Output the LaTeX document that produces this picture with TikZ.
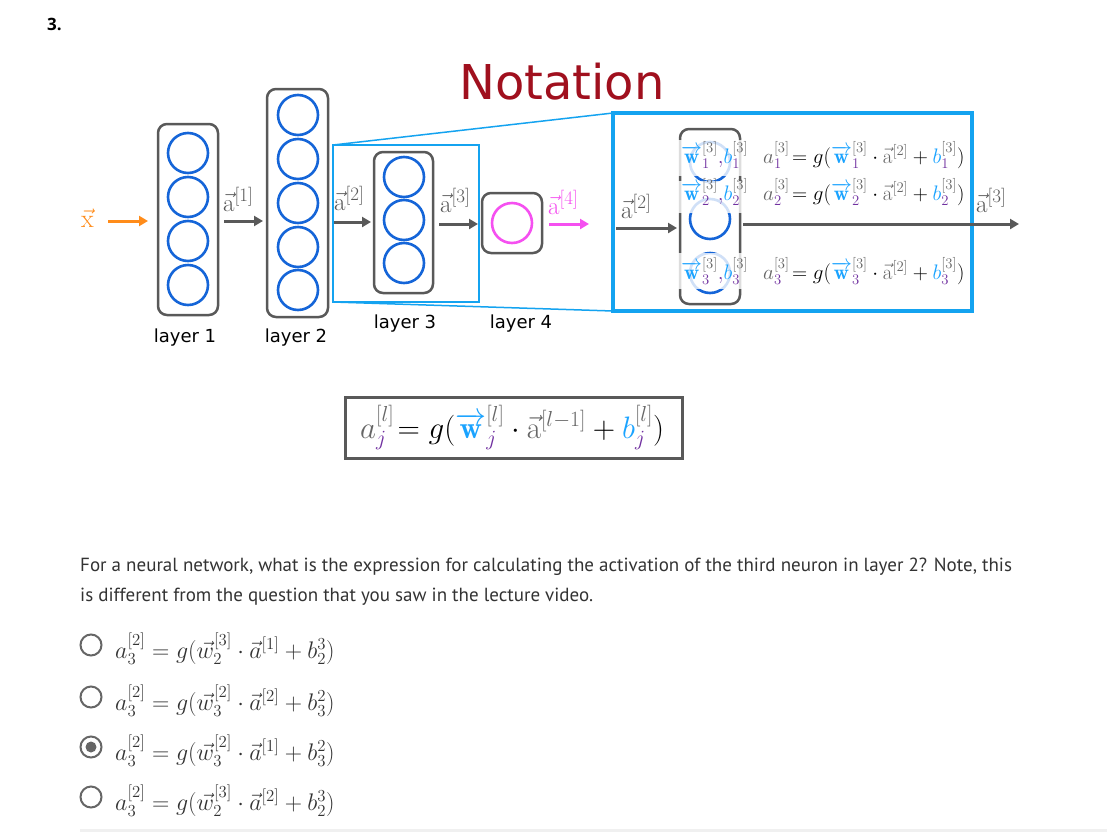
\RequirePackage{fix-cm}
\documentclass[tikz,border=0pt]{standalone}
\usepackage{amsmath}
\usepackage{fontspec}
\usetikzlibrary{arrows.meta}
\newfontfamily\dejavu{DejaVu Sans}
\newfontfamily\ptsans{PT Sans}
\newfontfamily\opensans{Open Sans}
\definecolor{nodeblue}{HTML}{1565D8}
\definecolor{boxgray}{HTML}{595959}
\definecolor{skyblue}{HTML}{14A3F0}
\definecolor{wblue}{HTML}{1AA3FF}
\definecolor{purp}{HTML}{7030A0}
\definecolor{notred}{HTML}{A0101E}
\definecolor{eqgray}{HTML}{666666}
\definecolor{xorange}{HTML}{FF8C1A}
\definecolor{apink}{HTML}{F550F0}
\definecolor{txtgray}{HTML}{333333}
\definecolor{radiogray}{HTML}{666666}
\newcommand{\myA}[2]{\textcolor{eqgray}{a}^{\textcolor{eqgray}{[#1]}}_{\textcolor{purp}{#2}}}
\newcommand{\myW}[2]{\textcolor{wblue}{\overrightarrow{\mathbf{w}}}^{\textcolor{eqgray}{[#1]}}_{\textcolor{purp}{#2}}}
\newcommand{\myB}[2]{\textcolor{wblue}{b}^{\textcolor{eqgray}{[#1]}}_{\textcolor{purp}{#2}}}
\newcommand{\myV}[1]{\textcolor{eqgray}{\vec{\mathrm{a}}^{[#1]}}}
\newcommand{\labV}[1]{$\vec{\mathrm{a}}^{\mbox{\fontsize{19}{19}\selectfont[#1]}}$}
\newcommand{\rowEq}[1]{$\myA{3}{#1}\!= g(\myW{3}{#1}\cdot\myV{2}+\myB{3}{#1})$}
\newcommand{\rowLab}[1]{$\myW{3}{#1}\textcolor{purp}{,}\myB{3}{#1}$}
\begin{document}
\begin{tikzpicture}[x=1pt,y=-1pt,
  lbox/.style={draw=boxgray,line width=2.5pt,rounded corners=9pt,inner sep=0pt},
  neuron/.style={circle,draw=nodeblue,line width=2.6pt,minimum size=40pt,inner sep=0pt},
  garrow/.style={draw=boxgray,line width=3pt,-{Triangle[length=9pt,width=10pt]}},
  layerlab/.style={anchor=base,font=\dejavu\fontsize{18}{20}\selectfont,text=black,inner sep=0pt},
  veclab/.style={anchor=base west,font=\fontsize{25}{27}\selectfont,text=boxgray,inner sep=0pt},
  eqrow/.style={anchor=base west,font=\fontsize{21}{23}\selectfont,inner sep=0pt},
  fade/.style={fill=white,fill opacity=0.8,draw=none},
  radio/.style={circle,draw=radiogray,line width=2pt,minimum size=21pt,inner sep=0pt},
  opt/.style={anchor=base west,font=\fontsize{24}{26}\selectfont,text=txtgray,inner sep=0pt}
]
\useasboundingbox (0,0) rectangle (1107,833);
\fill[white] (0,0) rectangle (1107,833);

% title
\node[anchor=base west,inner sep=0pt,font=\opensans\bfseries\fontsize{17}{20}\selectfont] (num) at (47,30) {3.};
\node[anchor=base,inner sep=0pt,text=notred,font=\dejavu\fontsize{48}{50}\selectfont] (title) at (562,99) {Notation};

% zoom lines and boxes
\draw[skyblue,line width=1.5pt] (333,145) -- (613,113);
\draw[skyblue,line width=1.5pt] (333,302) -- (613,311);
\draw[skyblue,line width=2.2pt] (333,145) rectangle (479,302);
\fill[white] (613,113) rectangle (972,311);
\draw[skyblue,line width=3.5pt] (613,113) rectangle (972,311);

% input
\node[anchor=base west,inner sep=0pt,text=xorange,font=\fontsize{26}{28}\selectfont] (xlab) at (81,227) {$\vec{\mathrm{x}}$};
\coordinate (x0) at (108,221);
\coordinate (x1) at (148,221);
\draw[draw=xorange,line width=3pt,-{Triangle[length=9pt,width=10pt]}] (x0) -- (x1);

% layer 1
\node[lbox,minimum width=60pt,minimum height=191pt] (L1) at (188,219.5) {};
\foreach \y [count=\i] in {153,197,241,285} \node[neuron] (n1\i) at (188,\y) {};
\node[layerlab] (l1) at (185,342) {layer 1};
% layer 2
\node[lbox,minimum width=61pt,minimum height=228pt] (L2) at (297.5,203) {};
\foreach \y [count=\i] in {115,159,203,247,290} \node[neuron] (n2\i) at (298,\y) {};
\node[layerlab] (l2) at (296,342) {layer 2};
% layer 3
\node[lbox,minimum width=59pt,minimum height=141pt] (L3) at (403.5,222.5) {};
\foreach \y [count=\i] in {177,220,263} \node[neuron] (n3\i) at (404,\y) {};
\node[layerlab] (l3) at (405,328) {layer 3};
% layer 4
\node[lbox,minimum width=60pt,minimum height=60pt] (L4) at (512,223) {};
\node[neuron,draw=apink] (n41) at (512,223) {};
\node[layerlab] (l4) at (521,328) {layer 4};

% arrows between layers
\coordinate (a1s) at (224,221); \coordinate (a1e) at (263,221);
\draw[garrow] (a1s) -- (a1e);
\node[veclab] (va1) at (223,211) {\labV{1}};
\coordinate (a2s) at (334,222); \coordinate (a2e) at (371,222);
\draw[garrow] (a2s) -- (a2e);
\node[veclab] (va2) at (334,210) {\labV{2}};
\coordinate (a3s) at (439,224); \coordinate (a3e) at (478,224);
\draw[garrow] (a3s) -- (a3e);
\node[veclab] (va3) at (440,212) {\labV{3}};
\coordinate (a4s) at (549,224); \coordinate (a4e) at (589,224);
\draw[draw=apink,line width=3pt,-{Triangle[length=9pt,width=10pt]}] (a4s) -- (a4e);
\node[veclab,text=apink] (va4) at (548,214) {\labV{4}};

% zoomed layer
\coordinate (b2s) at (616,228); \coordinate (b2e) at (677,228);
\draw[garrow] (b2s) -- (b2e);
\node[veclab] (vb2) at (621,218) {\labV{2}};
\node[lbox,minimum width=60pt,minimum height=175pt] (LZ) at (710,216.5) {};
\foreach \y [count=\i] in {162,219,273} \node[neuron] (nz\i) at (710,\y) {};
\fill[fade] (677,140) rectangle (744,176);
\fill[fade] (677,181) rectangle (744,213);
\fill[fade] (677,253) rectangle (744,289);
\coordinate (b3s) at (743,224); \coordinate (b3e) at (1019,224);
\draw[garrow] (b3s) -- (b3e);
\node[veclab] (vb3) at (976,212) {\labV{3}};

\node[eqrow] (w1) at (681,163) {\rowLab{1}};
\node[eqrow] (w2) at (681,200) {\rowLab{2}};
\node[eqrow] (w3) at (681,279) {\rowLab{3}};
\node[eqrow] (e1) at (763,163) {\rowEq{1}};
\node[eqrow] (e2) at (763,200) {\rowEq{2}};
\node[eqrow] (e3) at (763,279) {\rowEq{3}};

% general formula
\node[draw=boxgray,line width=3pt,minimum width=337pt,minimum height=61pt,inner sep=0pt] (fbox) at (513.5,427.5) {};
\node[anchor=base west,inner sep=0pt,font=\fontsize{31}{33}\selectfont] (gen) at (360,438)
  {$\textcolor{eqgray}{a}^{\textcolor{eqgray}{[l]}}_{\textcolor{purp}{j}}\!= g(\textcolor{wblue}{\overrightarrow{\mathbf{w}}}^{\textcolor{eqgray}{[l]}}_{\textcolor{purp}{j}}\cdot\textcolor{eqgray}{\vec{\mathrm{a}}^{[l-1]}}+\textcolor{wblue}{b}^{\textcolor{eqgray}{[l]}}_{\textcolor{purp}{j}})$};

% question
\node[anchor=base west,inner sep=0pt,text=txtgray,font=\ptsans\fontsize{19}{22}\selectfont] (q1) at (80,571)
  {For a neural network, what is the expression for calculating the activation of the third neuron in layer 2? Note, this};
\node[anchor=base west,inner sep=0pt,text=txtgray,font=\ptsans\fontsize{19}{22}\selectfont] (q2) at (80,601)
  {is different from the question that you saw in the lecture video.};

% options
\node[radio] (r1) at (91,645) {};
\node[radio] (r2) at (91,697) {};
\node[radio] (r3) at (91,747) {};
\fill[radiogray] (r3.center) circle (5.5pt);
\node[radio] (r4) at (91,797) {};
\node[opt] (o1) at (115,658) {$a_3^{[2]} = g(\vec{w}_2^{[3]}\cdot\vec{a}^{[1]}+b_2^3)$};
\node[opt] (o2) at (115,710) {$a_3^{[2]} = g(\vec{w}_3^{[2]}\cdot\vec{a}^{[2]}+b_3^2)$};
\node[opt] (o3) at (115,760) {$a_3^{[2]} = g(\vec{w}_3^{[2]}\cdot\vec{a}^{[1]}+b_3^2)$};
\node[opt] (o4) at (115,810) {$a_3^{[2]} = g(\vec{w}_2^{[3]}\cdot\vec{a}^{[2]}+b_2^3)$};
\draw[draw=black!6,line width=3pt] (80,830) -- (1107,830);
\end{tikzpicture}
\end{document}
